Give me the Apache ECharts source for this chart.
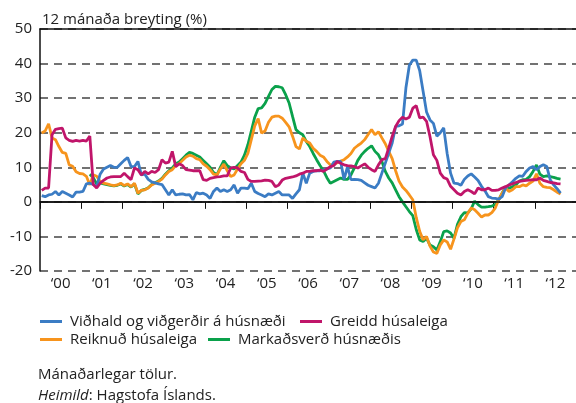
<!DOCTYPE html>
<html>
<head>
<meta charset="utf-8">
<script src="https://cdn.jsdelivr.net/npm/echarts@6/dist/echarts.min.js"></script>
<style>
html,body{margin:0;padding:0;background:#fff;}
#c{width:576px;height:403px;}
</style>
</head>
<body>
<div id="c"></div>
<script>
// Year tick labels
var yearLabels = ["\u201800","\u201801","\u201802","\u201803","\u201804","\u201805","\u201806","\u201807","\u201808","\u201809","\u201810","\u201811","\u201812"];
var startYear = 2000, nYears = 13;

// Monthly values from Jan 2000
var vidhald = [
1.8,1.5,2.0,2.2,3.0,2.0,3.0,2.5,2.0,1.4,2.8,2.8,
3.0,5.2,5.4,5.0,4.4,8.0,9.5,10.0,10.5,10.0,10.0,11.0,
12.0,12.8,10.2,10.2,11.7,7.8,8.0,6.5,5.8,5.5,5.2,5.0,
3.5,2.0,3.5,2.0,2.2,2.3,2.0,2.1,0.6,2.7,2.3,2.5,
2.0,1.0,3.0,4.0,3.0,3.5,3.0,3.5,4.9,2.5,4.0,4.0,
3.8,5.4,3.0,2.4,2.0,1.5,2.3,2.0,2.5,3.0,2.0,2.0,
2.0,1.0,2.3,3.5,8.3,5.4,8.3,8.8,9.0,9.0,9.2,9.5,
9.8,11.5,11.7,11.7,6.5,10.2,6.4,6.5,6.4,6.2,5.5,4.8,
4.4,4.0,5.4,8.3,11.2,14.1,17.0,21.8,22.0,22.5,33.0,39.5,
41.0,41.0,38.0,32.0,26.0,23.7,22.7,19.0,20.0,21.4,14.0,8.3,
5.4,5.3,4.8,6.5,7.5,8.1,7.2,6.2,4.5,3.2,1.5,1.1,
1.0,0.8,1.5,4.0,4.9,5.8,6.8,7.5,7.4,8.8,9.8,10.2,
9.3,10.2,10.7,10.2,6.4,4.9,3.8,2.5
];
var greidd = [
3.3,4.0,4.0,19.4,21.0,21.2,21.3,18.5,17.8,17.5,17.8,17.6,
17.8,17.6,19.0,5.0,4.0,5.4,6.2,6.9,7.2,7.3,7.3,7.3,
8.3,7.3,6.4,9.8,9.3,7.8,8.8,8.1,8.8,8.5,9.3,12.2,
11.2,11.5,14.6,10.2,11.0,10.5,9.3,9.2,9.0,9.0,9.0,6.4,
6.2,6.8,7.0,7.2,7.3,7.5,7.5,9.8,10.0,9.8,8.8,8.5,
6.5,5.9,5.9,6.0,6.1,6.3,6.2,5.9,4.4,4.9,6.3,6.8,
7.0,7.2,7.5,8.0,8.3,8.8,8.8,9.0,9.0,9.2,8.8,9.5,
10.2,10.5,11.7,11.2,10.7,10.5,10.4,10.2,9.8,10.4,11.0,10.0,
9.3,8.8,10.7,12.2,12.5,15.6,18.9,21.8,23.5,24.5,24.0,24.5,
27.1,27.8,24.3,24.5,23.3,18.9,13.6,12.0,8.3,7.0,6.6,4.5,
3.5,2.5,2.0,3.0,3.5,3.0,2.3,4.0,3.5,3.5,4.0,3.3,
3.3,3.5,4.0,4.4,4.9,5.2,5.6,5.9,6.1,6.2,6.3,6.4,
6.4,6.9,6.2,5.9,5.6,5.5,5.3,5.2
];
var reiknud = [
19.9,20.5,22.6,18.5,18.0,16.0,14.3,14.0,10.7,10.3,8.7,8.2,
8.1,7.4,4.9,7.8,7.4,5.9,5.4,5.2,4.9,4.7,4.9,5.4,
4.7,5.2,4.4,5.4,2.5,3.3,3.5,4.0,4.9,5.4,5.9,6.6,
7.8,8.8,9.3,10.5,11.0,12.0,13.0,13.5,13.2,12.5,12.2,11.0,
10.3,9.3,8.0,7.8,9.5,10.9,9.0,7.3,7.8,9.5,11.0,12.0,
14.0,18.0,22.0,24.1,19.9,20.5,23.0,24.5,24.8,24.8,24.2,23.0,
21.7,19.0,16.0,15.3,18.5,17.5,17.0,15.5,14.6,13.5,13.0,11.7,
10.7,10.8,11.3,11.8,12.2,13.0,14.0,15.5,16.3,17.0,18.0,19.5,
20.9,19.4,20.3,18.5,16.8,14.6,12.5,9.0,6.0,4.3,3.3,2.0,
0.6,-4.5,-8.5,-11.0,-10.0,-12.8,-14.5,-14.9,-12.5,-11.0,-11.6,-13.7,
-10.7,-7.5,-5.7,-5.2,-3.3,-1.8,-2.3,-3.3,-4.4,-3.8,-3.8,-3.1,
-1.8,0.6,2.5,4.0,3.0,3.5,4.4,4.4,4.9,4.6,5.4,6.0,
8.1,5.4,4.4,4.2,4.1,3.5,2.8,2.3
];
var markadsverd = [
null,null,null,null,null,null,null,null,null,null,null,null,
null,null,8.0,7.0,5.2,5.5,5.2,5.0,4.8,4.6,4.8,5.2,
4.6,5.0,4.3,5.2,2.3,3.3,3.6,4.1,5.0,5.5,6.0,6.8,
8.0,9.0,9.8,11.0,11.5,12.5,13.5,14.3,14.0,13.5,13.0,12.0,
11.0,10.0,8.5,7.8,10.0,11.9,10.5,9.8,9.5,10.5,11.5,13.5,
16.5,20.5,24.5,27.0,27.2,28.5,30.5,32.5,33.4,33.3,33.0,31.0,
28.6,24.7,20.9,20.0,19.4,17.5,16.0,14.0,12.2,10.5,9.0,7.0,
5.4,5.9,6.4,6.9,6.5,6.5,7.8,9.8,12.0,13.5,14.6,15.5,
16.2,14.6,13.6,11.7,8.8,6.9,5.5,3.5,1.5,0.0,-1.4,-2.8,
-4.0,-8.0,-11.0,-11.5,-10.5,-12.5,-13.0,-13.9,-11.5,-8.6,-8.4,-9.0,
-10.5,-6.5,-4.3,-3.1,-3.2,-2.0,0.2,-0.8,-1.5,-1.5,-1.4,-1.2,
-0.8,0.6,2.5,4.4,3.9,4.4,4.9,6.0,6.4,6.5,7.3,8.8,
10.7,8.0,7.3,7.5,7.3,7.1,6.8,6.6
];
var yTicks = {min: -20, max: 50, step: 10};

var names = {
  vidhald: "Viðhald og viðgerðir á húsnæði",
  greidd: "Greidd húsaleiga",
  reiknud: "Reiknuð húsaleiga",
  markad: "Markaðsverð húsnæðis"
};
var colors = {vidhald: "#3b7cc4", greidd: "#c0156a", reiknud: "#f7941d", markad: "#0aa14b"};

var months = [];
for (var y = 0; y < nYears; y++) for (var mo = 1; mo <= 12; mo++) months.push((startYear + y) + "-" + mo);

var FONT = "Open Sans";
var FS = 15;
var chart = echarts.init(document.getElementById('c'), null, {renderer: 'canvas'});

function lineSeries(name, data, color, extra) {
  var s = {
    name: name, type: 'line', data: data, xAxisIndex: 1, yAxisIndex: 0,
    showSymbol: false, symbol: 'none', connectNulls: false,
    lineStyle: {color: color, width: 2.8}, itemStyle: {color: color},
    animation: false
  };
  if (extra) for (var k in extra) s[k] = extra[k];
  return s;
}
function legendAt(name, left, top) {
  return {
    data: [name], left: left, top: top, icon: 'rect', itemWidth: 22, itemHeight: 3,
    padding: 0, itemGap: 0,
    textStyle: {fontFamily: FONT, fontSize: FS, color: '#222', padding: [0, 0, 0, 3]}
  };
}

chart.setOption({
  backgroundColor: '#fff',
  animation: false,
  title: {
    text: "12 mánaða breyting (%)", left: 37, top: 7,
    textStyle: {fontFamily: FONT, fontSize: FS, fontWeight: 'normal', color: '#222'}
  },
  legend: [
    legendAt(names.vidhald, 40, 314),
    legendAt(names.greidd, 300, 314),
    legendAt(names.reiknud, 40, 332),
    legendAt(names.markad, 208, 332)
  ],
  grid: {left: 40, right: -7, top: 29, bottom: 132, containLabel: false},
  xAxis: [
    {
      type: 'category', data: yearLabels, position: 'bottom', boundaryGap: true,
      axisLine: {show: true, lineStyle: {color: '#111', width: 1.5}},
      axisTick: {show: true, length: 7, lineStyle: {color: '#111', width: 1}},
      axisLabel: {fontFamily: FONT, fontSize: FS, color: '#222', margin: 5},
      splitLine: {show: false}
    },
    {
      type: 'category', data: months, boundaryGap: true, show: false
    },
    {
      type: 'category', data: yearLabels, position: 'top', boundaryGap: true,
      axisLine: {show: true, lineStyle: {color: '#111', width: 1.5}},
      axisTick: {show: false}, axisLabel: {show: false}, splitLine: {show: false}
    }
  ],
  yAxis: {
    type: 'value', min: yTicks.min, max: yTicks.max, interval: yTicks.step,
    axisLine: {show: true, lineStyle: {color: '#111', width: 1.5}},
    axisTick: {show: false},
    axisLabel: {fontFamily: FONT, fontSize: FS, color: '#222', margin: 8},
    splitLine: {show: true, lineStyle: {color: '#444', width: 1.5, type: [8, 6]}}
  },
  series: [
    lineSeries(names.markad, markadsverd, colors.markad, {
      markLine: {
        silent: true, symbol: 'none', label: {show: false},
        lineStyle: {color: '#111', width: 1.5, type: 'solid'},
        data: [{yAxis: 0}], animation: false
      }
    }),
    lineSeries(names.reiknud, reiknud, colors.reiknud),
    lineSeries(names.vidhald, vidhald, colors.vidhald),
    lineSeries(names.greidd, greidd, colors.greidd)
  ],
  graphic: [
    {
      type: 'text', left: 38, top: 367,
      style: {text: "Mánaðarlegar tölur.", fontFamily: FONT, fontSize: FS, fill: '#222'}
    },
    {
      type: 'text', left: 38, top: 388,
      style: {
        text: "{i|Heimild}{n|: Hagstofa Íslands.}",
        rich: {
          i: {fontFamily: FONT, fontSize: FS, fontStyle: 'italic', fill: '#222'},
          n: {fontFamily: FONT, fontSize: FS, fill: '#222'}
        }
      }
    }
  ]
});
</script>
</body>
</html>
